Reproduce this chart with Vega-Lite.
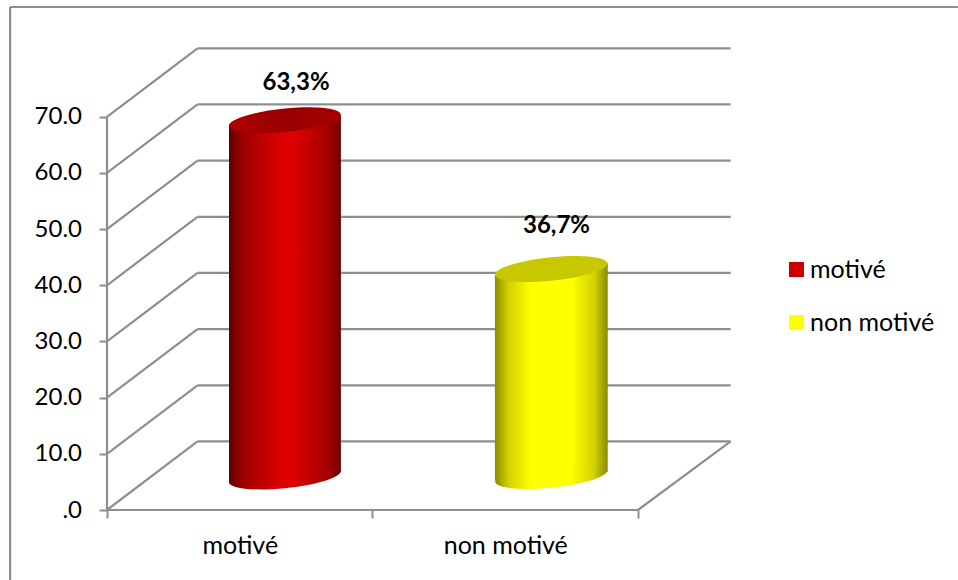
{
"$schema":"https://vega.github.io/schema/vega-lite/v6.json",
"width":958,"height":580,"padding":0,"autosize":{"type":"none"},
"background":"white",
"config":{"view":{"stroke":null},"font":"Lato"},
"datasets":{
"lines":[
{"kind":"frame","x":-0.365,"x2":-0.365,"y":89.55,"y2":-12.46},
{"kind":"frame","x":-0.365,"x2":3.205,"y":89.55,"y2":89.55},
{"kind":"axis","x":0,"x2":0,"y":0,"y2":70},
{"kind":"axis","x":0,"x2":2,"y":0,"y2":0},
{"kind":"floor","x":2,"x2":2.349,"y":0,"y2":12.2},
{"kind":"back","x":0.341,"x2":2.349,"y":12.2,"y2":12.2},
{"kind":"back","x":0.341,"x2":2.349,"y":22.2,"y2":22.2},
{"kind":"back","x":0.341,"x2":2.349,"y":32.2,"y2":32.2},
{"kind":"back","x":0.341,"x2":2.349,"y":42.2,"y2":42.2},
{"kind":"back","x":0.341,"x2":2.349,"y":52.2,"y2":52.2},
{"kind":"back","x":0.341,"x2":2.349,"y":62.2,"y2":62.2},
{"kind":"back","x":0.341,"x2":2.349,"y":72.2,"y2":72.2},
{"kind":"back","x":0.341,"x2":2.349,"y":82.2,"y2":82.2},
{"kind":"side","x":0,"x2":0.341,"y":0,"y2":12.2},
{"kind":"side","x":0,"x2":0.341,"y":10,"y2":22.2},
{"kind":"side","x":0,"x2":0.341,"y":20,"y2":32.2},
{"kind":"side","x":0,"x2":0.341,"y":30,"y2":42.2},
{"kind":"side","x":0,"x2":0.341,"y":40,"y2":52.2},
{"kind":"side","x":0,"x2":0.341,"y":50,"y2":62.2},
{"kind":"side","x":0,"x2":0.341,"y":60,"y2":72.2},
{"kind":"side","x":0,"x2":0.341,"y":70,"y2":82.2}
],
"bars":[
{"name":"motivé","value":63.3,"cx":0.67,"top":69.38,"base":5.96,"labelX":0.712,"labelY":76.1,"label":"63,3%"},
{"name":"non motivé","value":36.7,"cx":1.673,"top":42.9,"base":6.05,"labelX":1.693,"labelY":50.5,"label":"36,7%"}
],
"sides":[
{"name":"motivé","x":0.4595,"top":68.4,"base":5.16},
{"name":"motivé","x":0.881,"top":70.3,"base":6.82},
{"name":"non motivé","x":1.461,"top":41.84,"base":5.34},
{"name":"non motivé","x":1.886,"top":43.97,"base":6.82}
]
},
"layer":[
{"data":{"name":"lines"},
 "mark":{"type":"rule","color":"#8e8e8e","strokeWidth":2.2},
 "encoding":{
  "x":{"field":"x","type":"quantitative","scale":{"domain":[-0.403,3.2053],"nice":false,"zero":false},
    "axis":{"title":null,"domain":false,"grid":false,"offset":-70,"orient":"bottom","values":[0,0.5,1,1.5,2],
      "labelExpr":"datum.value==0.5?'motivé':datum.value==1.5?'non motivé':''",
      "tickSize":8,"tickWidth":2,"tickColor":"#8e8e8e","tickOpacity":{"condition":{"test":"datum.value==0.5||datum.value==1.5","value":0},"value":1},
      "labelFont":"Lato","labelFontSize":25,"labelColor":"#000","labelPadding":15,"labelFlush":false,"labelOverlap":false}},
  "x2":{"field":"x2"},
  "y":{"field":"y","type":"quantitative","scale":{"domain":[-12.462,90.796],"nice":false,"zero":false},
    "axis":{"title":null,"domain":false,"grid":false,"offset":-107,"orient":"left","values":[0,10,20,30,40,50,60,70],
      "labelExpr":"datum.value==0?'.0':format(datum.value,'.1f')",
      "tickSize":8,"tickWidth":2,"tickColor":"#8e8e8e",
      "labelFont":"Lato","labelFontSize":24,"labelColor":"#000","labelPadding":17.5,"labelOverlap":false}},
  "y2":{"field":"y2"}
 }},
{"data":{"name":"sides"},"transform":[{"filter":"datum.name=='motivé'"}],
 "mark":{"type":"area","fill":{"gradient":"linear","x1":0,"x2":1,"y1":0,"y2":0,"stops":[{"offset":0,"color":"#5e0000"},{"offset":0.12,"color":"#9c0000"},{"offset":0.46,"color":"#dc0000"},{"offset":0.58,"color":"#dc0000"},{"offset":0.88,"color":"#a60000"},{"offset":1,"color":"#6e0000"}]}},
 "encoding":{"x":{"field":"x","type":"quantitative"},"y":{"field":"top","type":"quantitative"},"y2":{"field":"base"}}},
{"data":{"name":"sides"},"transform":[{"filter":"datum.name=='non motivé'"}],
 "mark":{"type":"area","fill":{"gradient":"linear","x1":0,"x2":1,"y1":0,"y2":0,"stops":[{"offset":0,"color":"#8c8c00"},{"offset":0.12,"color":"#d2d200"},{"offset":0.32,"color":"#ffff00"},{"offset":0.68,"color":"#ffff00"},{"offset":0.88,"color":"#d2d200"},{"offset":1,"color":"#8c8c00"}]}},
 "encoding":{"x":{"field":"x","type":"quantitative"},"y":{"field":"top","type":"quantitative"},"y2":{"field":"base"}}},
{"data":{"name":"bars"},"transform":[{"filter":"datum.name=='motivé'"}],
 "mark":{"type":"point","filled":true,"opacity":1,"size":12544,"shape":"M1,-.098C1,.018,.552,.156,0,.21C-.552,.264,-1,.214,-1,.098C-1,-.018,-.552,-.156,0,-.21C.552,-.264,1,-.214,1,-.098Z","fill":{"gradient":"linear","x1":0,"x2":1,"y1":0,"y2":0,"stops":[{"offset":0,"color":"#5e0000"},{"offset":0.12,"color":"#9c0000"},{"offset":0.46,"color":"#dc0000"},{"offset":0.58,"color":"#dc0000"},{"offset":0.88,"color":"#a60000"},{"offset":1,"color":"#6e0000"}]}},
 "encoding":{"x":{"field":"cx","type":"quantitative"},"y":{"field":"base","type":"quantitative"}}},
{"data":{"name":"bars"},"transform":[{"filter":"datum.name=='non motivé'"}],
 "mark":{"type":"point","filled":true,"opacity":1,"size":12544,"shape":"M1,-.098C1,.018,.552,.156,0,.21C-.552,.264,-1,.214,-1,.098C-1,-.018,-.552,-.156,0,-.21C.552,-.264,1,-.214,1,-.098Z","fill":{"gradient":"linear","x1":0,"x2":1,"y1":0,"y2":0,"stops":[{"offset":0,"color":"#8c8c00"},{"offset":0.12,"color":"#d2d200"},{"offset":0.32,"color":"#ffff00"},{"offset":0.68,"color":"#ffff00"},{"offset":0.88,"color":"#d2d200"},{"offset":1,"color":"#8c8c00"}]}},
 "encoding":{"x":{"field":"cx","type":"quantitative"},"y":{"field":"base","type":"quantitative"}}},
{"data":{"name":"bars"},"transform":[{"filter":"datum.name=='motivé'"}],
 "mark":{"type":"point","filled":true,"opacity":1,"size":12544,"shape":"M1,-.098C1,.018,.552,.156,0,.21C-.552,.264,-1,.214,-1,.098C-1,-.018,-.552,-.156,0,-.21C.552,-.264,1,-.214,1,-.098Z","fill":{"gradient":"linear","x1":0,"x2":1,"y1":0,"y2":0,"stops":[{"offset":0,"color":"#b00000"},{"offset":0.5,"color":"#980000"},{"offset":1,"color":"#a80000"}]}},
 "encoding":{"x":{"field":"cx","type":"quantitative"},"y":{"field":"top","type":"quantitative"}}},
{"data":{"name":"bars"},"transform":[{"filter":"datum.name=='non motivé'"}],
 "mark":{"type":"point","filled":true,"opacity":1,"size":12544,"shape":"M1,-.098C1,.018,.552,.156,0,.21C-.552,.264,-1,.214,-1,.098C-1,-.018,-.552,-.156,0,-.21C.552,-.264,1,-.214,1,-.098Z","fill":"#c8c800"},
 "encoding":{"x":{"field":"cx","type":"quantitative"},"y":{"field":"top","type":"quantitative"}}},
{"data":{"name":"bars"},
 "mark":{"type":"text","font":"Lato","fontWeight":"bold","fontSize":24,"color":"#000","align":"center","baseline":"middle"},
 "encoding":{"x":{"field":"labelX","type":"quantitative"},"y":{"field":"labelY","type":"quantitative"},"text":{"field":"label"}}},
{"data":{"name":"bars"},
 "mark":{"type":"point","filled":true,"opacity":0,"size":1},
 "encoding":{"x":{"field":"cx","type":"quantitative"},"y":{"field":"top","type":"quantitative"},
  "color":{"field":"name","type":"nominal","scale":{"domain":["motivé","non motivé"],"range":["#cc0000","#ffff00"]},
   "legend":{"title":null,"orient":"none","legendX":784,"legendY":257,"symbolType":"square","symbolSize":225,"symbolOpacity":1,"symbolStrokeWidth":0,"labelFont":"Lato","labelFontSize":25,"labelColor":"#000","labelOffset":1,"rowPadding":27}}}}
]
}
